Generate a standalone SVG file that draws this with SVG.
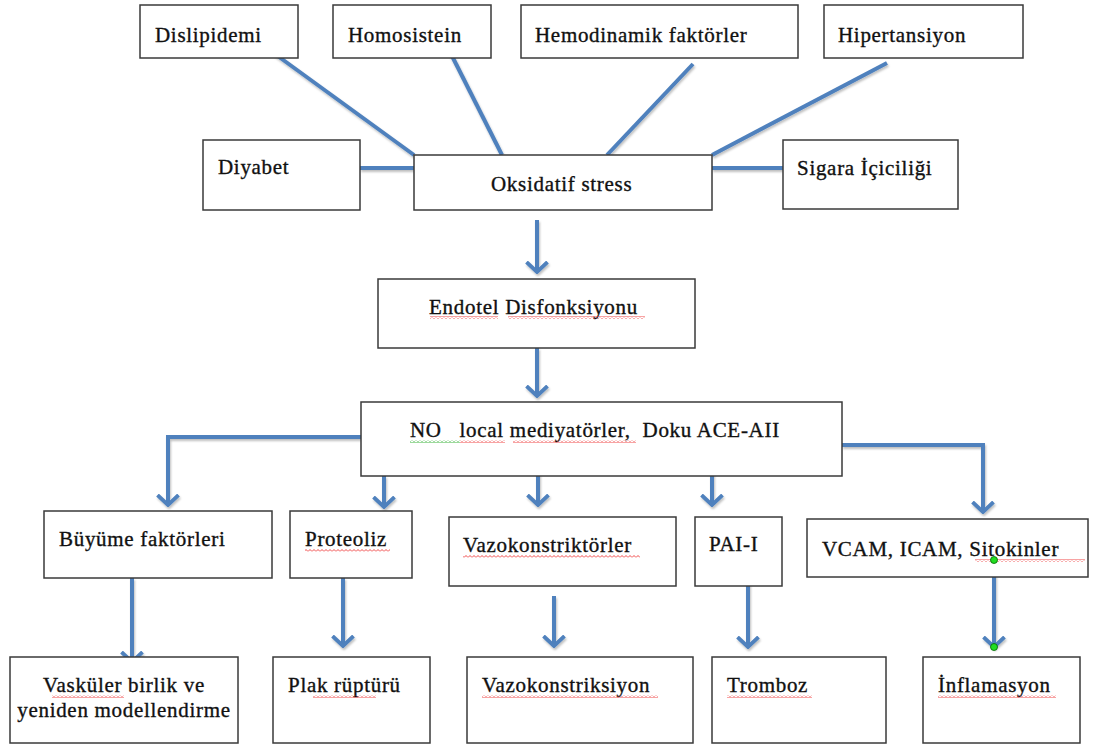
<svg xmlns="http://www.w3.org/2000/svg" width="1096" height="745" viewBox="0 0 1096 745">
<style>
.box{fill:#fff;stroke:#3a3a3a;stroke-width:1.5}
.t{font-family:"Liberation Serif","Times New Roman",serif;font-size:21px;letter-spacing:0.7px;fill:#111;stroke:#111;stroke-width:0.35}
.c{fill:none;stroke:#4F81BD;stroke-width:4}
.sr{fill:url(#sqR)}
.sg{fill:url(#sqG)}
</style>
<defs>
<marker id="arr" viewBox="0 0 13 24" refX="11" refY="12" markerWidth="13" markerHeight="24" markerUnits="userSpaceOnUse" orient="auto">
<path d="M1,1.5 L11,12 L1,22.5" fill="none" stroke="#4F81BD" stroke-width="3.8"/>
</marker>
<pattern id="sqR" width="4" height="3" patternUnits="userSpaceOnUse">
<path d="M0,2.5 L2,0.5 L4,2.5" fill="none" stroke="#e33" stroke-width="0.9"/>
</pattern>
<pattern id="sqG" width="4" height="3" patternUnits="userSpaceOnUse">
<path d="M0,2.5 L2,0.5 L4,2.5" fill="none" stroke="#2a2" stroke-width="0.9"/>
</pattern>
<filter id="sh" x="-10%" y="-10%" width="120%" height="130%">
<feDropShadow dx="1" dy="2" stdDeviation="1" flood-color="#000" flood-opacity="0.25"/>
</filter>
</defs>

<g id="connectors" filter="url(#sh)">
<line class="c" x1="275" y1="54" x2="414" y2="155"/>
<line class="c" x1="450" y1="52" x2="502" y2="155"/>
<line class="c" x1="693" y1="64" x2="607" y2="155"/>
<line class="c" x1="887" y1="63" x2="712" y2="155"/>
<line class="c" x1="360" y1="168" x2="414" y2="168"/>
<line class="c" x1="712" y1="168" x2="783" y2="168"/>
<line class="c" x1="537" y1="220" x2="537" y2="272" marker-end="url(#arr)"/>
<line class="c" x1="537" y1="348" x2="537" y2="396" marker-end="url(#arr)"/>
<polyline class="c" points="361,437 168,437 168,505" marker-end="url(#arr)"/>
<line class="c" x1="384" y1="476" x2="384" y2="507" marker-end="url(#arr)"/>
<line class="c" x1="538" y1="472" x2="538" y2="505" marker-end="url(#arr)"/>
<line class="c" x1="712" y1="472" x2="712" y2="505" marker-end="url(#arr)"/>
<polyline class="c" points="842,445 983,445 983,512" marker-end="url(#arr)"/>
<line class="c" x1="132" y1="578" x2="132" y2="662" marker-end="url(#arr)"/>
<line class="c" x1="343" y1="578" x2="343" y2="646" marker-end="url(#arr)"/>
<line class="c" x1="554" y1="596" x2="554" y2="646" marker-end="url(#arr)"/>
<line class="c" x1="748" y1="578" x2="748" y2="647" marker-end="url(#arr)"/>
<line class="c" x1="994" y1="560" x2="994" y2="647" marker-end="url(#arr)"/>
</g>

<g id="n-dislipidemi"><rect class="box" x="140" y="5" width="158" height="53"/><text class="t" x="155" y="42">Dislipidemi</text></g>
<g id="n-homosistein"><rect class="box" x="333" y="5" width="158" height="53"/><text class="t" x="348" y="42">Homosistein</text></g>
<g id="n-hemodinamik"><rect class="box" x="521" y="5" width="277" height="53"/><text class="t" x="535" y="42">Hemodinamik faktörler</text></g>
<g id="n-hipertansiyon"><rect class="box" x="824" y="5" width="199" height="53"/><text class="t" x="838" y="42">Hipertansiyon</text></g>
<g id="n-diyabet"><rect class="box" x="203" y="140" width="157" height="70"/><text class="t" x="218" y="174">Diyabet</text></g>
<g id="n-oksidatif"><rect class="box" x="414" y="155" width="298" height="55"/><text class="t" x="491" y="191">Oksidatif stress</text></g>
<g id="n-sigara"><rect class="box" x="783" y="140" width="175" height="69"/><text class="t" x="797" y="175">Sigara İçiciliği</text></g>

<g id="n-endotel"><rect class="box" x="378" y="279" width="317" height="69"/><text class="t" x="429" y="314">Endotel Disfonksiyonu</text>
<rect class="sr" x="430" y="316" width="68" height="3"/><rect class="sr" x="508" y="316" width="137" height="3"/></g>

<g id="n-no"><rect class="box" x="361" y="402" width="481" height="74"/><text class="t" x="410" y="437" xml:space="preserve">NO   local mediyatörler,  Doku ACE-AII</text>
<rect class="sg" x="410" y="440" width="50" height="3"/><rect class="sr" x="460" y="440" width="45" height="3"/><rect class="sr" x="513" y="440" width="123" height="3"/></g>

<g id="n-buyume"><rect class="box" x="44" y="511" width="228" height="67"/><text class="t" x="59" y="546">Büyüme faktörleri</text></g>
<g id="n-proteoliz"><rect class="box" x="290" y="511" width="122" height="67"/><text class="t" x="305" y="546">Proteoliz</text>
<rect class="sr" x="305" y="549" width="85" height="3"/></g>
<g id="n-vazokonstriktorler"><rect class="box" x="449" y="517" width="227" height="69"/><text class="t" x="463" y="552">Vazokonstriktörler</text>
<rect class="sr" x="463" y="555" width="177" height="3"/></g>
<g id="n-pai"><rect class="box" x="695" y="517" width="87" height="69"/><text class="t" x="709" y="551">PAI-I</text></g>
<g id="n-vcam"><rect class="box" x="807" y="519" width="281" height="58"/><text class="t" x="822" y="556">VCAM, ICAM, Sitokinler</text>
<rect class="sr" x="975" y="559" width="110" height="3"/></g>

<g id="n-vaskuler"><rect class="box" x="10" y="657" width="228" height="86"/><text class="t" x="124" y="692" text-anchor="middle">Vasküler birlik ve</text><text class="t" x="124" y="717" text-anchor="middle">yeniden modellendirme</text>
<rect class="sr" x="52" y="695" width="72" height="3"/></g>
<g id="n-plak"><rect class="box" x="273" y="657" width="157" height="86"/><text class="t" x="288" y="692">Plak rüptürü</text>
<rect class="sr" x="313" y="695" width="63" height="3"/></g>
<g id="n-vazokonstriksiyon"><rect class="box" x="467" y="657" width="226" height="86"/><text class="t" x="482" y="692">Vazokonstriksiyon</text>
<rect class="sr" x="482" y="695" width="176" height="3"/></g>
<g id="n-tromboz"><rect class="box" x="712" y="657" width="174" height="86"/><text class="t" x="727" y="692">Tromboz</text>
<rect class="sr" x="727" y="695" width="85" height="3"/></g>
<g id="n-inflamasyon"><rect class="box" x="923" y="657" width="157" height="86"/><text class="t" x="938" y="692">İnflamasyon</text>
<rect class="sr" x="938" y="695" width="118" height="3"/></g>

<g id="handles">
<circle cx="994" cy="560" r="3.5" fill="#2d2" stroke="#060" stroke-width="0.8"/>
<circle cx="994" cy="647" r="3.5" fill="#2d2" stroke="#060" stroke-width="0.8"/>
</g>
</svg>
